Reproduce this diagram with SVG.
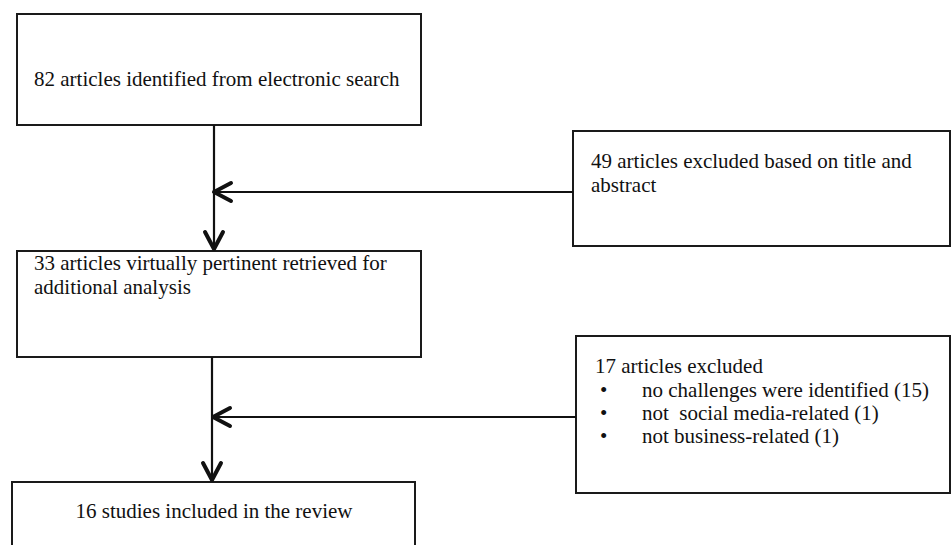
<svg xmlns="http://www.w3.org/2000/svg" width="951" height="545" viewBox="0 0 951 545">
  <defs>
    <style>
      .box { fill: #ffffff; stroke: #1a1a1a; stroke-width: 2; }
      .txt { font-family: "Liberation Serif", "Times New Roman", serif; font-size: 21px; fill: #111111; }
      .conn { fill: none; stroke: #111111; stroke-width: 2.2; }
    </style>
    <marker id="chev" markerUnits="userSpaceOnUse" viewBox="-22 -13 26 26" refX="0" refY="0" markerWidth="26" markerHeight="26" orient="auto">
      <path d="M-17,-9 L0,0 L-17,9" fill="none" stroke="#111111" stroke-width="4" stroke-linecap="round" stroke-linejoin="round"/>
    </marker>
  </defs>
  <rect width="951" height="545" fill="#ffffff"/>

  <g id="n1">
    <rect class="box" x="17" y="14" width="404" height="111"/>
    <text class="txt" x="34" y="86">82 articles identified from electronic search</text>
  </g>

  <g id="n2">
    <rect class="box" x="573" y="131" width="377" height="115"/>
    <text class="txt" x="591" y="168">49 articles excluded based on title and</text>
    <text class="txt" x="591" y="192">abstract</text>
  </g>

  <g id="n3">
    <rect class="box" x="17" y="251" width="404" height="106"/>
    <text class="txt" x="34" y="270">33 articles virtually pertinent retrieved for</text>
    <text class="txt" x="34" y="294">additional analysis</text>
  </g>

  <g id="n4">
    <rect class="box" x="576" y="336" width="374" height="157"/>
    <text class="txt" x="595" y="373">17 articles excluded</text>
    <text class="txt" x="600" y="397">•</text>
    <text class="txt" x="642" y="397">no challenges were identified (15)</text>
    <text class="txt" x="600" y="420">•</text>
    <text class="txt" x="642" y="420" xml:space="preserve">not  social media-related (1)</text>
    <text class="txt" x="600" y="443">•</text>
    <text class="txt" x="642" y="443">not business-related (1)</text>
  </g>

  <g id="n5">
    <rect class="box" x="12" y="482" width="403" height="80"/>
    <text class="txt" x="214" y="518" text-anchor="middle">16 studies included in the review</text>
  </g>

  <g id="connectors">
    <line class="conn" x1="214" y1="125" x2="214" y2="249" marker-end="url(#chev)"/>
    <line class="conn" x1="573" y1="192" x2="214" y2="192" marker-end="url(#chev)"/>
    <line class="conn" x1="212" y1="357" x2="212" y2="480" marker-end="url(#chev)"/>
    <line class="conn" x1="576" y1="417" x2="213" y2="417" marker-end="url(#chev)"/>
  </g>
</svg>
